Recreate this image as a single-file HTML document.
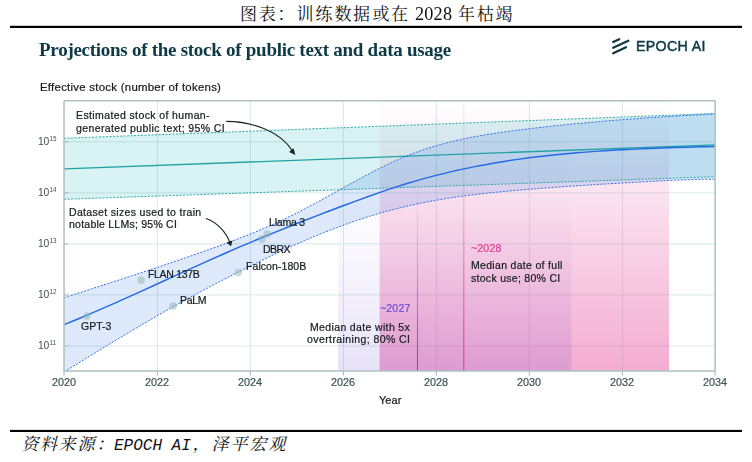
<!DOCTYPE html><html><head><meta charset="utf-8"><title>chart</title><style>
html,body{margin:0;padding:0;background:#fff}
body{width:752px;height:462px;position:relative;overflow:hidden;font-family:"Liberation Sans",sans-serif}
.t{position:absolute;white-space:nowrap;line-height:1;will-change:transform}
.y{position:absolute;white-space:nowrap;line-height:1;will-change:transform;font-size:10.3px;color:#3f5357;left:37.9px;letter-spacing:-0.3px}
.y b{font-weight:normal;font-size:6.3px;position:relative;top:-3.7px;margin-left:0.6px;letter-spacing:0}

</style></head><body>
<svg width="752" height="462" viewBox="0 0 752 462" style="position:absolute;left:0;top:0">
<defs>
<linearGradient id="gp" x1="0" y1="0" x2="0" y2="1"><stop offset="0" stop-color="#e74b9b" stop-opacity="0.0"/><stop offset="1" stop-color="#e74b9b" stop-opacity="0.46"/></linearGradient>
<linearGradient id="gv" x1="0" y1="0" x2="0" y2="1"><stop offset="0" stop-color="#623ecd" stop-opacity="0"/><stop offset="0.35" stop-color="#623ecd" stop-opacity="0.008"/><stop offset="0.58" stop-color="#623ecd" stop-opacity="0.045"/><stop offset="0.77" stop-color="#623ecd" stop-opacity="0.089"/><stop offset="1" stop-color="#623ecd" stop-opacity="0.15"/></linearGradient>
<linearGradient id="lv" x1="0" y1="0" x2="0" y2="1"><stop offset="0" stop-color="#6a4fd8" stop-opacity="0"/><stop offset="0.33" stop-color="#6a4fd8" stop-opacity="0.03"/><stop offset="0.58" stop-color="#6a4fd8" stop-opacity="0.3"/><stop offset="1" stop-color="#6a4fd8" stop-opacity="1"/></linearGradient>
<linearGradient id="lp" x1="0" y1="0" x2="0" y2="1"><stop offset="0" stop-color="#e0408f" stop-opacity="0.1"/><stop offset="0.4" stop-color="#e0408f" stop-opacity="0.32"/><stop offset="1" stop-color="#e0408f" stop-opacity="1"/></linearGradient>
<clipPath id="cp"><rect x="64.0" y="100.8" width="651.1" height="270.1"/></clipPath>
</defs>
<rect x="10" y="25.8" width="732" height="2.2" fill="#000"/>
<rect x="10" y="429.9" width="732" height="2.1" fill="#000"/>
<text y="19.5" font-size="17" fill="#111" text-anchor="middle" font-family="'Liberation Serif','Noto Serif CJK SC',serif" x="248.5 267.3 286 305 324 343 361.5 381 399.5">图表：训练数据或在</text>
<text y="19.5" font-size="17" fill="#111" text-anchor="middle" font-family="'Liberation Serif','Noto Serif CJK SC',serif" x="466.5 485.5 504">年枯竭</text>
<text y="450" font-size="17" fill="#111" font-style="italic" text-anchor="middle" font-family="'Liberation Serif','Noto Serif CJK SC',serif" x="30 48.5 67 86 105">资料来源：</text>
<text x="114" y="450" font-size="16" fill="#111" font-style="italic" font-family="'Liberation Mono',monospace">EPOCH AI</text>
<text y="450" font-size="17" fill="#111" font-style="italic" text-anchor="middle" font-family="'Liberation Serif','Noto Serif CJK SC',serif" x="201 220 239 258 277">，泽平宏观</text>
<path d="M157.4 100.8V370.9M250.4 100.8V370.9M343.4 100.8V370.9M436.4 100.8V370.9M529.4 100.8V370.9M622.4 100.8V370.9M64.05 346.0H715.1M64.05 294.9H715.1M64.05 243.9H715.1M64.05 192.9H715.1M64.05 141.8H715.1" stroke="#d9e8e8" stroke-width="1" fill="none"/>
<g clip-path="url(#cp)">
<rect x="379.6" y="100.8" width="289.4" height="270.09999999999997" fill="url(#gp)"/>
<rect x="338" y="100.8" width="233.39999999999998" height="270.09999999999997" fill="url(#gv)"/>
<polygon points="64.0,138.3 715.1,113.5 715.1,176.7 64.0,199.3" fill="#1fb2b8" fill-opacity="0.17"/>
<path d="M64.05 297.71C66.26 296.99 72.91 294.85 77.34 293.42C81.77 291.99 86.19 290.57 90.62 289.14C95.05 287.71 99.48 286.28 103.91 284.85C108.34 283.42 112.77 281.99 117.20 280.55C121.63 279.11 126.05 277.67 130.48 276.22C134.91 274.77 139.34 273.31 143.77 271.85C148.20 270.39 152.63 268.92 157.06 267.44C161.49 265.96 165.91 264.47 170.34 262.97C174.77 261.47 179.20 259.95 183.63 258.43C188.06 256.90 192.49 255.37 196.92 253.81C201.35 252.26 205.78 250.70 210.20 249.11C214.63 247.53 219.06 245.93 223.49 244.30C227.92 242.66 232.35 241.01 236.78 239.31C241.21 237.61 245.64 235.88 250.06 234.09C254.49 232.31 258.92 230.48 263.35 228.58C267.78 226.68 272.21 224.74 276.64 222.71C281.07 220.68 285.50 218.59 289.92 216.42C294.35 214.24 298.78 211.98 303.21 209.67C307.64 207.37 312.07 204.98 316.50 202.59C320.93 200.19 325.36 197.73 329.78 195.29C334.21 192.84 338.64 190.36 343.07 187.91C347.50 185.46 351.93 183.00 356.36 180.60C360.79 178.20 365.22 175.81 369.64 173.50C374.07 171.19 378.50 168.92 382.93 166.75C387.36 164.58 391.79 162.47 396.22 160.49C400.65 158.51 405.08 156.62 409.51 154.87C413.93 153.12 418.36 151.50 422.79 149.98C427.22 148.47 431.65 147.08 436.08 145.78C440.51 144.48 444.94 143.29 449.37 142.17C453.79 141.06 458.22 140.05 462.65 139.10C467.08 138.15 471.51 137.28 475.94 136.46C480.37 135.65 484.80 134.90 489.23 134.19C493.65 133.48 498.08 132.83 502.51 132.21C506.94 131.58 511.37 131.00 515.80 130.43C520.23 129.85 524.66 129.31 529.09 128.77C533.51 128.24 537.94 127.72 542.37 127.22C546.80 126.71 551.23 126.23 555.66 125.76C560.09 125.28 564.52 124.83 568.95 124.38C573.37 123.94 577.80 123.51 582.23 123.09C586.66 122.68 591.09 122.28 595.52 121.89C599.95 121.50 604.38 121.12 608.81 120.75C613.24 120.39 617.66 120.04 622.09 119.70C626.52 119.35 630.95 119.03 635.38 118.71C639.81 118.39 644.24 118.08 648.67 117.78C653.10 117.48 657.52 117.20 661.95 116.92C666.38 116.64 670.81 116.37 675.24 116.11C679.67 115.85 684.10 115.60 688.53 115.35C692.96 115.11 697.38 114.88 701.81 114.65C706.24 114.42 712.89 114.10 715.10 113.98L715.10 179.21C712.89 179.23 706.24 179.26 701.81 179.33C697.38 179.41 692.96 179.53 688.53 179.67C684.10 179.81 679.67 179.99 675.24 180.18C670.81 180.37 666.38 180.59 661.95 180.81C657.52 181.04 653.10 181.28 648.67 181.53C644.24 181.77 639.81 182.02 635.38 182.28C630.95 182.53 626.52 182.78 622.09 183.03C617.66 183.29 613.24 183.55 608.81 183.81C604.38 184.07 599.95 184.34 595.52 184.61C591.09 184.88 586.66 185.16 582.23 185.44C577.80 185.73 573.37 186.02 568.95 186.31C564.52 186.61 560.09 186.92 555.66 187.24C551.23 187.56 546.80 187.88 542.37 188.22C537.94 188.56 533.51 188.90 529.09 189.27C524.66 189.63 520.23 190.00 515.80 190.39C511.37 190.77 506.94 191.17 502.51 191.60C498.08 192.02 493.65 192.46 489.23 192.93C484.80 193.41 480.37 193.90 475.94 194.43C471.51 194.96 467.08 195.52 462.65 196.12C458.22 196.73 453.79 197.36 449.37 198.05C444.94 198.74 440.51 199.46 436.08 200.24C431.65 201.03 427.22 201.85 422.79 202.74C418.36 203.63 413.93 204.57 409.51 205.57C405.08 206.58 400.65 207.65 396.22 208.78C391.79 209.91 387.36 211.10 382.93 212.35C378.50 213.61 374.07 214.92 369.64 216.29C365.22 217.67 360.79 219.10 356.36 220.60C351.93 222.09 347.50 223.64 343.07 225.26C338.64 226.87 334.21 228.54 329.78 230.26C325.36 231.99 320.93 233.77 316.50 235.60C312.07 237.43 307.64 239.31 303.21 241.23C298.78 243.15 294.35 245.12 289.92 247.13C285.50 249.13 281.07 251.18 276.64 253.26C272.21 255.34 267.78 257.46 263.35 259.61C258.92 261.75 254.49 263.93 250.06 266.13C245.64 268.33 241.21 270.55 236.78 272.80C232.35 275.04 227.92 277.31 223.49 279.60C219.06 281.89 214.63 284.20 210.20 286.54C205.78 288.88 201.35 291.24 196.92 293.64C192.49 296.03 188.06 298.45 183.63 300.90C179.20 303.35 174.77 305.83 170.34 308.33C165.91 310.83 161.49 313.36 157.06 315.91C152.63 318.46 148.20 321.04 143.77 323.63C139.34 326.22 134.91 328.84 130.48 331.47C126.05 334.10 121.63 336.76 117.20 339.42C112.77 342.09 108.34 344.78 103.91 347.47C99.48 350.17 95.05 352.88 90.62 355.60C86.19 358.32 81.77 361.05 77.34 363.79C72.91 366.53 66.26 370.67 64.05 372.04Z" fill="#2469e6" fill-opacity="0.15"/>
<rect x="416.95" y="100.8" width="1.1" height="270.09999999999997" fill="url(#lv)"/>
<rect x="463.25" y="100.8" width="1.1" height="270.09999999999997" fill="url(#lp)"/>
<path d="M64.0 138.3L715.1 113.5M64.05 199.3L715.1 176.7" stroke="#1fa3a3" stroke-width="0.9" stroke-dasharray="2.1 1.4" fill="none"/>
<path d="M64.0 168.8L715.1 144.9" stroke="#1fa3a3" stroke-width="1.3" fill="none"/>
<path d="M64.05 297.71C66.26 296.99 72.91 294.85 77.34 293.42C81.77 291.99 86.19 290.57 90.62 289.14C95.05 287.71 99.48 286.28 103.91 284.85C108.34 283.42 112.77 281.99 117.20 280.55C121.63 279.11 126.05 277.67 130.48 276.22C134.91 274.77 139.34 273.31 143.77 271.85C148.20 270.39 152.63 268.92 157.06 267.44C161.49 265.96 165.91 264.47 170.34 262.97C174.77 261.47 179.20 259.95 183.63 258.43C188.06 256.90 192.49 255.37 196.92 253.81C201.35 252.26 205.78 250.70 210.20 249.11C214.63 247.53 219.06 245.93 223.49 244.30C227.92 242.66 232.35 241.01 236.78 239.31C241.21 237.61 245.64 235.88 250.06 234.09C254.49 232.31 258.92 230.48 263.35 228.58C267.78 226.68 272.21 224.74 276.64 222.71C281.07 220.68 285.50 218.59 289.92 216.42C294.35 214.24 298.78 211.98 303.21 209.67C307.64 207.37 312.07 204.98 316.50 202.59C320.93 200.19 325.36 197.73 329.78 195.29C334.21 192.84 338.64 190.36 343.07 187.91C347.50 185.46 351.93 183.00 356.36 180.60C360.79 178.20 365.22 175.81 369.64 173.50C374.07 171.19 378.50 168.92 382.93 166.75C387.36 164.58 391.79 162.47 396.22 160.49C400.65 158.51 405.08 156.62 409.51 154.87C413.93 153.12 418.36 151.50 422.79 149.98C427.22 148.47 431.65 147.08 436.08 145.78C440.51 144.48 444.94 143.29 449.37 142.17C453.79 141.06 458.22 140.05 462.65 139.10C467.08 138.15 471.51 137.28 475.94 136.46C480.37 135.65 484.80 134.90 489.23 134.19C493.65 133.48 498.08 132.83 502.51 132.21C506.94 131.58 511.37 131.00 515.80 130.43C520.23 129.85 524.66 129.31 529.09 128.77C533.51 128.24 537.94 127.72 542.37 127.22C546.80 126.71 551.23 126.23 555.66 125.76C560.09 125.28 564.52 124.83 568.95 124.38C573.37 123.94 577.80 123.51 582.23 123.09C586.66 122.68 591.09 122.28 595.52 121.89C599.95 121.50 604.38 121.12 608.81 120.75C613.24 120.39 617.66 120.04 622.09 119.70C626.52 119.35 630.95 119.03 635.38 118.71C639.81 118.39 644.24 118.08 648.67 117.78C653.10 117.48 657.52 117.20 661.95 116.92C666.38 116.64 670.81 116.37 675.24 116.11C679.67 115.85 684.10 115.60 688.53 115.35C692.96 115.11 697.38 114.88 701.81 114.65C706.24 114.42 712.89 114.10 715.10 113.98M64.05 372.04C66.26 370.67 72.91 366.53 77.34 363.79C81.77 361.05 86.19 358.32 90.62 355.60C95.05 352.88 99.48 350.17 103.91 347.47C108.34 344.78 112.77 342.09 117.20 339.42C121.63 336.76 126.05 334.10 130.48 331.47C134.91 328.84 139.34 326.22 143.77 323.63C148.20 321.04 152.63 318.46 157.06 315.91C161.49 313.36 165.91 310.83 170.34 308.33C174.77 305.83 179.20 303.35 183.63 300.90C188.06 298.45 192.49 296.03 196.92 293.64C201.35 291.24 205.78 288.88 210.20 286.54C214.63 284.20 219.06 281.89 223.49 279.60C227.92 277.31 232.35 275.04 236.78 272.80C241.21 270.55 245.64 268.33 250.06 266.13C254.49 263.93 258.92 261.75 263.35 259.61C267.78 257.46 272.21 255.34 276.64 253.26C281.07 251.18 285.50 249.13 289.92 247.13C294.35 245.12 298.78 243.15 303.21 241.23C307.64 239.31 312.07 237.43 316.50 235.60C320.93 233.77 325.36 231.99 329.78 230.26C334.21 228.54 338.64 226.87 343.07 225.26C347.50 223.64 351.93 222.09 356.36 220.60C360.79 219.10 365.22 217.67 369.64 216.29C374.07 214.92 378.50 213.61 382.93 212.35C387.36 211.10 391.79 209.91 396.22 208.78C400.65 207.65 405.08 206.58 409.51 205.57C413.93 204.57 418.36 203.63 422.79 202.74C427.22 201.85 431.65 201.03 436.08 200.24C440.51 199.46 444.94 198.74 449.37 198.05C453.79 197.36 458.22 196.73 462.65 196.12C467.08 195.52 471.51 194.96 475.94 194.43C480.37 193.90 484.80 193.41 489.23 192.93C493.65 192.46 498.08 192.02 502.51 191.60C506.94 191.17 511.37 190.77 515.80 190.39C520.23 190.00 524.66 189.63 529.09 189.27C533.51 188.90 537.94 188.56 542.37 188.22C546.80 187.88 551.23 187.56 555.66 187.24C560.09 186.92 564.52 186.61 568.95 186.31C573.37 186.02 577.80 185.73 582.23 185.44C586.66 185.16 591.09 184.88 595.52 184.61C599.95 184.34 604.38 184.07 608.81 183.81C613.24 183.55 617.66 183.29 622.09 183.03C626.52 182.78 630.95 182.53 635.38 182.28C639.81 182.02 644.24 181.77 648.67 181.53C653.10 181.28 657.52 181.04 661.95 180.81C666.38 180.59 670.81 180.37 675.24 180.18C679.67 179.99 684.10 179.81 688.53 179.67C692.96 179.53 697.38 179.41 701.81 179.33C706.24 179.26 712.89 179.23 715.10 179.21" stroke="#2469e6" stroke-width="0.9" stroke-dasharray="2.1 1.4" fill="none"/>
<path d="M64.05 324.68C66.26 323.77 72.91 321.08 77.34 319.24C81.77 317.40 86.19 315.53 90.62 313.64C95.05 311.75 99.48 309.83 103.91 307.90C108.34 305.97 112.77 304.01 117.20 302.04C121.63 300.07 126.05 298.09 130.48 296.09C134.91 294.10 139.34 292.09 143.77 290.08C148.20 288.06 152.63 286.04 157.06 284.02C161.49 282.00 165.91 279.97 170.34 277.95C174.77 275.92 179.20 273.90 183.63 271.88C188.06 269.86 192.49 267.85 196.92 265.85C201.35 263.85 205.78 261.85 210.20 259.88C214.63 257.90 219.06 255.93 223.49 253.99C227.92 252.05 232.35 250.12 236.78 248.21C241.21 246.30 245.64 244.42 250.06 242.55C254.49 240.69 258.92 238.84 263.35 237.01C267.78 235.19 272.21 233.38 276.64 231.58C281.07 229.79 285.50 228.01 289.92 226.25C294.35 224.49 298.78 222.75 303.21 221.01C307.64 219.28 312.07 217.56 316.50 215.85C320.93 214.15 325.36 212.45 329.78 210.77C334.21 209.09 338.64 207.41 343.07 205.75C347.50 204.09 351.93 202.44 356.36 200.81C360.79 199.19 365.22 197.57 369.64 195.99C374.07 194.41 378.50 192.85 382.93 191.34C387.36 189.83 391.79 188.34 396.22 186.91C400.65 185.48 405.08 184.09 409.51 182.75C413.93 181.42 418.36 180.14 422.79 178.90C427.22 177.67 431.65 176.49 436.08 175.36C440.51 174.22 444.94 173.14 449.37 172.10C453.79 171.06 458.22 170.07 462.65 169.11C467.08 168.16 471.51 167.26 475.94 166.39C480.37 165.52 484.80 164.70 489.23 163.92C493.65 163.13 498.08 162.39 502.51 161.67C506.94 160.96 511.37 160.29 515.80 159.65C520.23 159.01 524.66 158.41 529.09 157.84C533.51 157.27 537.94 156.73 542.37 156.22C546.80 155.71 551.23 155.23 555.66 154.77C560.09 154.32 564.52 153.90 568.95 153.49C573.37 153.09 577.80 152.72 582.23 152.37C586.66 152.02 591.09 151.69 595.52 151.38C599.95 151.07 604.38 150.79 608.81 150.52C613.24 150.25 617.66 150.00 622.09 149.76C626.52 149.53 630.95 149.31 635.38 149.11C639.81 148.90 644.24 148.71 648.67 148.53C653.10 148.35 657.52 148.19 661.95 148.03C666.38 147.87 670.81 147.72 675.24 147.58C679.67 147.44 684.10 147.30 688.53 147.17C692.96 147.04 697.38 146.92 701.81 146.79C706.24 146.67 712.89 146.49 715.10 146.43" stroke="#2469e6" stroke-width="1.45" fill="none"/>
<circle cx="86.7" cy="316.1" r="3.8" fill="#8fb3b3" fill-opacity="0.5"/>
<circle cx="141.1" cy="280.2" r="3.8" fill="#8fb3b3" fill-opacity="0.5"/>
<circle cx="173.1" cy="306" r="3.8" fill="#8fb3b3" fill-opacity="0.5"/>
<circle cx="238.3" cy="272.6" r="3.8" fill="#8fb3b3" fill-opacity="0.5"/>
<circle cx="262.1" cy="239.1" r="3.8" fill="#8fb3b3" fill-opacity="0.5"/>
<circle cx="267.2" cy="234" r="3.8" fill="#8fb3b3" fill-opacity="0.5"/>
<path d="M64.05 346.0h4.5M64.05 294.9h4.5M64.05 243.9h4.5M64.05 192.9h4.5M64.05 141.8h4.5" stroke="#adc0c3" stroke-width="1.2" fill="none"/>
</g>
<rect x="64.05" y="100.8" width="651.1" height="270.1" fill="none" stroke="#adc0c3" stroke-width="1.5" rx="0.8"/>
<path d="M64.0 370.9v4.7M157.4 370.9v4.7M250.4 370.9v4.7M343.4 370.9v4.7M436.4 370.9v4.7M529.4 370.9v4.7M622.4 370.9v4.7M715.1 370.9v4.7" stroke="#adc0c3" stroke-width="1.2" fill="none"/>
<path d="M226.2 121.4C252 121.5 280 131 293 151.6" stroke="#1d2528" stroke-width="1.15" fill="none"/>
<path d="M295.3 154.9L289 152L293.6 148.3Z" fill="#1d2528"/>
<path d="M206 218.5C216 222 226 231 230 243" stroke="#1d2528" stroke-width="1.15" fill="none"/>
<path d="M231 246.2L226.4 242.6L232.6 240.6Z" fill="#1d2528"/>
<path d="M613.2 42L619.2 39.2M613.2 47.7L628.3 40.8M613.2 53.2L626 47.2" stroke="#0e3a45" stroke-width="2.3" stroke-linecap="round" fill="none"/>
</svg>
<div class="t" id="t2028" style="left:414.60px;top:4.76px;font-size:18.2px;color:#111;font-family:'Liberation Serif',serif;letter-spacing:0.200px;">2028</div>
<div class="t" id="title" style="left:39.00px;top:39.69px;font-size:19px;color:#0e3a45;font-family:'Liberation Serif',serif;font-weight:bold;letter-spacing:-0.272px;">Projections of the stock of public text and data usage</div>
<div class="t" id="logo" style="left:635.80px;top:39.38px;font-size:14.2px;color:#0e3a45;font-family:'Liberation Sans',sans-serif;letter-spacing:0.343px;-webkit-text-stroke:0.5px #0e3a45;">EPOCH AI</div>
<div class="t" id="ylab" style="-webkit-text-stroke:0.22px #161c1f;left:40.40px;top:81.95px;font-size:11.4px;color:#161c1f;font-family:'Liberation Sans',sans-serif;letter-spacing:0.270px;">Effective stock (number of tokens)</div>
<div class="t" id="x2020" style="-webkit-text-stroke:0.22px #3f5357;left:52.20px;top:377.06px;font-size:10.8px;color:#3f5357;font-family:'Liberation Sans',sans-serif;letter-spacing:0.000px;">2020</div>
<div class="t" id="x2022" style="-webkit-text-stroke:0.22px #3f5357;left:145.23px;top:377.06px;font-size:10.8px;color:#3f5357;font-family:'Liberation Sans',sans-serif;letter-spacing:0.000px;">2022</div>
<div class="t" id="x2024" style="-webkit-text-stroke:0.22px #3f5357;left:238.26px;top:377.06px;font-size:10.8px;color:#3f5357;font-family:'Liberation Sans',sans-serif;letter-spacing:0.000px;">2024</div>
<div class="t" id="x2026" style="-webkit-text-stroke:0.22px #3f5357;left:331.29px;top:377.06px;font-size:10.8px;color:#3f5357;font-family:'Liberation Sans',sans-serif;letter-spacing:0.000px;">2026</div>
<div class="t" id="x2028" style="-webkit-text-stroke:0.22px #3f5357;left:424.31px;top:377.06px;font-size:10.8px;color:#3f5357;font-family:'Liberation Sans',sans-serif;letter-spacing:0.000px;">2028</div>
<div class="t" id="x2030" style="-webkit-text-stroke:0.22px #3f5357;left:517.34px;top:377.06px;font-size:10.8px;color:#3f5357;font-family:'Liberation Sans',sans-serif;letter-spacing:0.000px;">2030</div>
<div class="t" id="x2032" style="-webkit-text-stroke:0.22px #3f5357;left:610.37px;top:377.06px;font-size:10.8px;color:#3f5357;font-family:'Liberation Sans',sans-serif;letter-spacing:0.000px;">2032</div>
<div class="t" id="x2034" style="-webkit-text-stroke:0.22px #3f5357;left:703.40px;top:377.06px;font-size:10.8px;color:#3f5357;font-family:'Liberation Sans',sans-serif;letter-spacing:0.000px;">2034</div>
<div class="t" id="year" style="-webkit-text-stroke:0.22px #161c1f;left:378.60px;top:394.59px;font-size:11px;color:#161c1f;font-family:'Liberation Sans',sans-serif;letter-spacing:0.033px;">Year</div>
<div class="t" id="a1" style="-webkit-text-stroke:0.22px #161c1f;left:75.60px;top:110.31px;font-size:10.5px;color:#161c1f;font-family:'Liberation Sans',sans-serif;letter-spacing:0.387px;">Estimated stock of human-</div>
<div class="t" id="a2" style="-webkit-text-stroke:0.22px #161c1f;left:75.60px;top:122.91px;font-size:10.5px;color:#161c1f;font-family:'Liberation Sans',sans-serif;letter-spacing:0.389px;">generated public text; 95% CI</div>
<div class="t" id="b1" style="-webkit-text-stroke:0.22px #161c1f;left:69.20px;top:206.81px;font-size:10.5px;color:#161c1f;font-family:'Liberation Sans',sans-serif;letter-spacing:0.325px;">Dataset sizes used to train</div>
<div class="t" id="b2" style="-webkit-text-stroke:0.22px #161c1f;left:69.20px;top:219.41px;font-size:10.5px;color:#161c1f;font-family:'Liberation Sans',sans-serif;letter-spacing:0.239px;">notable LLMs; 95% CI</div>
<div class="t" id="m1" style="-webkit-text-stroke:0.22px #161c1f;left:269.00px;top:216.51px;font-size:10.5px;color:#161c1f;font-family:'Liberation Sans',sans-serif;letter-spacing:-0.200px;">Llama 3</div>
<div class="t" id="m2" style="-webkit-text-stroke:0.22px #161c1f;left:263.40px;top:244.11px;font-size:10.5px;color:#161c1f;font-family:'Liberation Sans',sans-serif;letter-spacing:-0.533px;">DBRX</div>
<div class="t" id="m3" style="-webkit-text-stroke:0.22px #161c1f;left:245.80px;top:261.01px;font-size:10.5px;color:#161c1f;font-family:'Liberation Sans',sans-serif;letter-spacing:0.070px;">Falcon-180B</div>
<div class="t" id="m4" style="-webkit-text-stroke:0.22px #161c1f;left:148.40px;top:269.31px;font-size:10.5px;color:#161c1f;font-family:'Liberation Sans',sans-serif;letter-spacing:-0.325px;">FLAN 137B</div>
<div class="t" id="m5" style="-webkit-text-stroke:0.22px #161c1f;left:179.80px;top:294.61px;font-size:10.5px;color:#161c1f;font-family:'Liberation Sans',sans-serif;letter-spacing:-0.333px;">PaLM</div>
<div class="t" id="m6" style="-webkit-text-stroke:0.22px #161c1f;left:80.80px;top:320.61px;font-size:10.5px;color:#161c1f;font-family:'Liberation Sans',sans-serif;letter-spacing:0.000px;">GPT-3</div>
<div class="t" id="p1" style="-webkit-text-stroke:0.22px #6a4fd8;left:380.20px;top:302.81px;font-size:10.5px;color:#6a4fd8;font-family:'Liberation Sans',sans-serif;letter-spacing:0.200px;">~2027</div>
<div class="t" id="p2" style="-webkit-text-stroke:0.22px #161c1f;left:310.40px;top:321.71px;font-size:10.5px;color:#161c1f;font-family:'Liberation Sans',sans-serif;letter-spacing:0.356px;">Median date with 5x</div>
<div class="t" id="p3" style="-webkit-text-stroke:0.22px #161c1f;left:307.40px;top:334.31px;font-size:10.5px;color:#161c1f;font-family:'Liberation Sans',sans-serif;letter-spacing:0.416px;">overtraining; 80% CI</div>
<div class="t" id="q1" style="-webkit-text-stroke:0.22px #e0408f;left:471.20px;top:242.81px;font-size:10.5px;color:#e0408f;font-family:'Liberation Sans',sans-serif;letter-spacing:0.200px;">~2028</div>
<div class="t" id="q2" style="-webkit-text-stroke:0.22px #161c1f;left:471.20px;top:259.51px;font-size:10.5px;color:#161c1f;font-family:'Liberation Sans',sans-serif;letter-spacing:0.311px;">Median date of full</div>
<div class="t" id="q3" style="-webkit-text-stroke:0.22px #161c1f;left:471.20px;top:273.11px;font-size:10.5px;color:#161c1f;font-family:'Liberation Sans',sans-serif;letter-spacing:0.287px;">stock use; 80% CI</div>
<div class="y" style="top:341.28px">10<b>11</b></div>
<div class="y" style="top:290.23px">10<b>12</b></div>
<div class="y" style="top:239.18px">10<b>13</b></div>
<div class="y" style="top:188.13px">10<b>14</b></div>
<div class="y" style="top:137.08px">10<b>15</b></div>
</body></html>
